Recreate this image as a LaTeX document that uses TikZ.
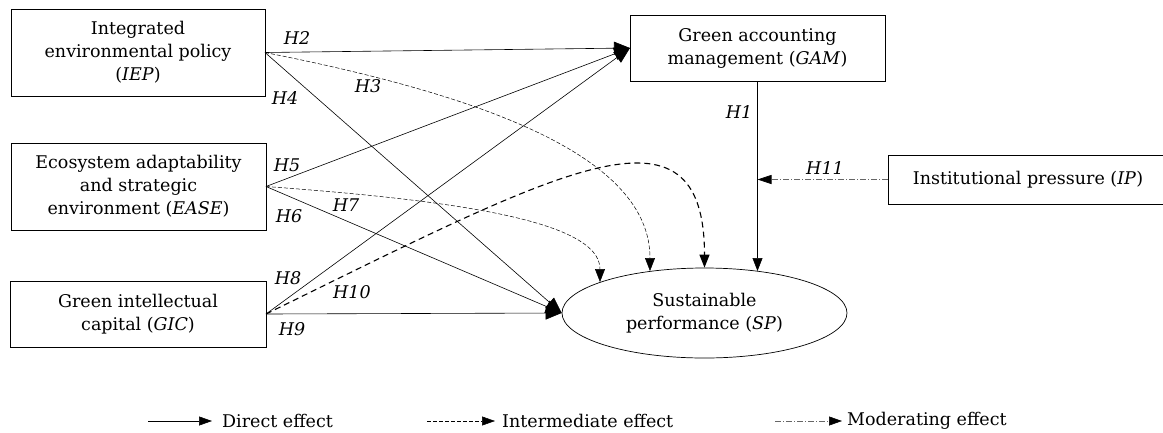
\documentclass[tikz,border=0pt]{standalone}
\usepackage{fontspec}
\setmainfont{DejaVu Serif}
\usetikzlibrary{arrows.meta,shapes.geometric}
\begin{document}
\begin{tikzpicture}[x=1pt,y=-1pt,
 every node/.style={font=\fontsize{17.5}{23}\selectfont},
 box/.style={draw,line width=0.7pt,align=center,inner sep=0pt,outer sep=0pt},
 lab/.style={font=\fontsize{17.5}{23}\selectfont\itshape,inner sep=0pt},
 bigtip/.style={-{Triangle[length=16pt,width=13pt]}},
 smalltip/.style={-{Triangle[length=13pt,width=10pt]}},
 legtip/.style={-{Triangle[length=13pt,width=9pt]}},
 direct/.style={line width=0.6pt},
 indirect/.style={line width=0.5pt,dash pattern=on 4pt off 2pt},
 indthick/.style={line width=1.1pt,dash pattern=on 6pt off 4pt},
 moder/.style={line width=0.6pt,draw=black!60,dash pattern=on 6pt off 2pt on 1pt off 2pt}]
\useasboundingbox (0,0) rectangle (1163,432);
% nodes
\node[box,minimum width=254pt,minimum height=87pt] (IEP) at (138,52.5) {Integrated\\environmental policy\\(\textit{IEP})};
\node[box,minimum width=255pt,minimum height=87pt] (EASE) at (138.5,186.5) {Ecosystem adaptability\\and strategic\\environment (\textit{EASE})};
\node[box,minimum width=256pt,minimum height=66pt] (GIC) at (138,314) {Green intellectual\\capital (\textit{GIC})};
\node[box,minimum width=255pt,minimum height=66pt] (GAM) at (757.5,48) {Green accounting\\management (\textit{GAM})};
\node[box,minimum width=280pt,minimum height=49pt] (IP) at (1028,179.5) {Institutional pressure (\textit{IP})};
\node[draw,ellipse,line width=0.7pt,minimum width=285pt,minimum height=90pt,inner sep=0pt,align=center] (SP) at (704.5,313) {Sustainable\\performance (\textit{SP})};
% end points
\coordinate (e3) at (650,271);
\coordinate (e7) at (600,282);
\coordinate (e1) at (757.5,271);
\coordinate (m11) at (757.5,179.5);
% direct effects
\draw[direct,bigtip] (IEP.east) -- (GAM.west);
\draw[direct,bigtip] (EASE.east) -- (GAM.west);
\draw[direct,bigtip] (GIC.east) -- (GAM.west);
\draw[direct,bigtip] (IEP.east) -- (SP.west);
\draw[direct,bigtip] (EASE.east) -- (SP.west);
\draw[direct,bigtip] (GIC.east) -- (SP.west);
\draw[direct,smalltip] (GAM.south) -- (e1);
% intermediate effects
\draw[indirect,smalltip] (IEP.east) .. controls (480,95) and (650,155) .. (e3);
\draw[indirect,smalltip] (EASE.east) .. controls (450,200) and (600,220) .. (e7);
\draw[indthick,smalltip] (GIC.east) .. controls (560,170) and (704.5,90) .. (SP.north);
% moderating
\draw[moder,-{Triangle[length=14pt,width=9pt,color=black]}] (IP.west) -- (m11);
% labels
\node[lab] (h1) at (739,112) {H1};
\node[lab] (h2) at (297,38) {H2};
\node[lab] (h3) at (368,86) {H3};
\node[lab] (h4) at (285,98) {H4};
\node[lab] (h5) at (287,165) {H5};
\node[lab] (h6) at (289,216) {H6};
\node[lab] (h7) at (346,205) {H7};
\node[lab] (h8) at (288,278) {H8};
\node[lab] (h9) at (292,329) {H9};
\node[lab] (h10) at (352,292) {H10};
\node[lab] (h11) at (825,168) {H11};
% legend
\coordinate (l1) at (148,421);
\coordinate (l2) at (427,421);
\coordinate (l3) at (775,421);
\node[anchor=west,inner sep=0pt] (t1) at (222,421) {Direct effect};
\node[anchor=west,inner sep=0pt] (t2) at (502,421) {Intermediate effect};
\node[anchor=west,inner sep=0pt] (t3) at (847,421) {Moderating effect};
\draw[direct,legtip] (l1) -- ([xshift=-10pt]t1.west);
\draw[indirect,legtip] (l2) -- ([xshift=-7pt]t2.west);
\draw[moder,-{Triangle[length=13pt,width=9pt,color=black]}] (l3) -- ([xshift=-5pt]t3.west);
\end{tikzpicture}
\end{document}
